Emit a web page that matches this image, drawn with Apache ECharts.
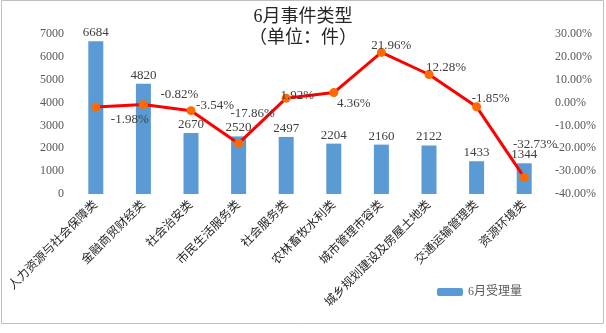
<!DOCTYPE html>
<html><head><meta charset="utf-8">
<script src="https://cdn.jsdelivr.net/npm/echarts@6/dist/echarts.min.js"></script>
<style>html,body{margin:0;padding:0;background:#fff}#c{width:606px;height:333px}</style>
</head><body><div id="c"></div>
<script>
const categories = ['人力资源与社会保障类','金融商贸财经类','社会治安类','市民生活服务类','社会服务类','农林畜牧水利类','城市管理市容类','城乡规划建设及房屋土地类','交通运输管理类','资源环境类'];
const counts = [6684, 4820, 2670, 2520, 2497, 2204, 2160, 2122, 1433, 1344];
const pctChange = [-1.98, -0.82, -3.54, -17.86, 1.92, 4.36, 21.96, 12.28, -1.85, -32.73];
const leftTicks = {min: 0, max: 7000, interval: 1000};
const rightTicks = {min: -40, max: 30, interval: 10};
const labelOffsets = [[34,12],[36,-10],[24,-5],[14,-30],[11,-3],[20,11],[10,-7],[17,-7],[14,-8],[11,-33]];

const F = '"Liberation Serif","Noto Sans CJK SC",serif';
const chart = echarts.init(document.getElementById('c'));
chart.setOption({
  animation: false,
  backgroundColor: '#fff',
  title: {
    text: '6月事件类型\n（单位：件）',
    left: 'center', top: 2,
    textStyle: {fontFamily: F, fontSize: 18, fontWeight: 'normal', color: '#262626', lineHeight: 21}
  },
  legend: {
    data: ['6月受理量'], left: 432, top: 281,
    itemWidth: 26, itemHeight: 8, itemGap: 5,
    textStyle: {fontFamily: F, fontSize: 12, color: '#595959'}
  },
  grid: {left: 72, right: 58, top: 34, bottom: 139},
  xAxis: {
    type: 'category', data: categories,
    axisLine: {show: false}, axisTick: {show: false},
    axisLabel: {rotate: 45, interval: 0, fontFamily: F, fontSize: 12, color: '#262626', margin: 9}
  },
  yAxis: [
    {type: 'value', min: leftTicks.min, max: leftTicks.max, interval: leftTicks.interval,
     splitLine: {show: false}, axisLine: {show: false}, axisTick: {show: false},
     axisLabel: {fontFamily: F, fontSize: 12, color: '#595959', margin: 8, formatter: v => String(v)}},
    {type: 'value', min: rightTicks.min, max: rightTicks.max, interval: rightTicks.interval,
     splitLine: {show: false}, axisLine: {show: false}, axisTick: {show: false},
     axisLabel: {fontFamily: F, fontSize: 12, color: '#595959', margin: 7,
       formatter: v => v.toFixed(2) + '%'}}
  ],
  series: [
    {name: '6月受理量', type: 'bar', data: counts, barWidth: 15,
     itemStyle: {color: '#5B9BD5'},
     label: {show: true, position: 'top', distance: 2, fontFamily: F, fontSize: 13, color: '#404040'}},
    {name: '同比', type: 'line', yAxisIndex: 1,
     data: pctChange.map((v, i) => ({value: v, label: {offset: labelOffsets[i]}})),
     symbol: 'circle', symbolSize: 9,
     lineStyle: {color: '#FF0000', width: 3},
     itemStyle: {color: '#FF6A00'},
     label: {show: true, position: 'inside', fontFamily: F, fontSize: 13, color: '#404040',
       formatter: p => p.value.toFixed(2) + '%'}}
  ],
  graphic: [{type: 'rect', shape: {x: 1.5, y: 0.5, width: 602, height: 323},
    style: {fill: 'none', stroke: '#BFBFBF', lineWidth: 1}, silent: true, z: -1}]
});
</script></body></html>
